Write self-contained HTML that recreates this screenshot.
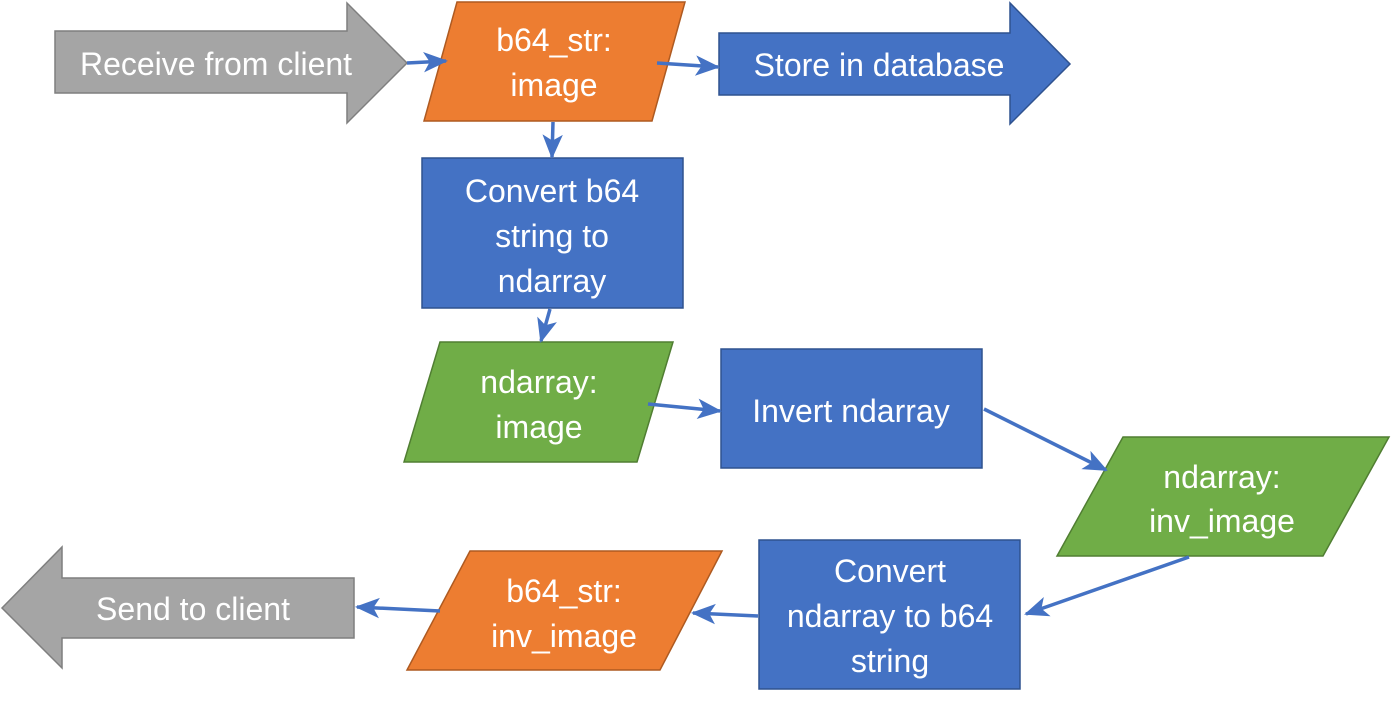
<!DOCTYPE html>
<html><head><meta charset="utf-8"><style>
html,body{margin:0;padding:0;background:#fff;}
svg{display:block}
text{font-family:"Liberation Sans",sans-serif;font-size:32px;fill:#fff;text-anchor:middle;}
</style></head><body>
<svg width="1391" height="705" viewBox="0 0 1391 705" xmlns="http://www.w3.org/2000/svg">
<defs>
<marker id="a" viewBox="0 0 12 10" refX="11" refY="5" markerWidth="7" markerHeight="7" orient="auto" markerUnits="strokeWidth">
<path d="M0,0 L12,5 L0,10 L3,5 Z" fill="#4472C4"/>
</marker>
</defs>
<polygon points="55,31 347,31 347,3 407,63 347,123 347,93 55,93" fill="#A5A5A5" stroke="#7F7F7F" stroke-width="1.5"/>
<text x="216" y="75">Receive from client</text>
<polygon points="457,2 685,2 652,121 424,121" fill="#ED7D31" stroke="#AE5A21" stroke-width="1.5"/>
<text x="554" y="51">b64_str:</text>
<text x="554" y="96">image</text>
<polygon points="719,33 1010,33 1010,3 1070,64 1010,124 1010,95 719,95" fill="#4472C4" stroke="#2F528F" stroke-width="1.5"/>
<text x="879" y="76">Store in database</text>
<rect x="422" y="158" width="261" height="150" fill="#4472C4" stroke="#2F528F" stroke-width="1.5"/>
<text x="552" y="202">Convert b64</text>
<text x="552" y="247">string to</text>
<text x="552" y="292">ndarray</text>
<polygon points="440,342 673,342 637,462 404,462" fill="#70AD47" stroke="#507E32" stroke-width="1.5"/>
<text x="539" y="393">ndarray:</text>
<text x="539" y="438">image</text>
<rect x="721" y="349" width="261" height="119" fill="#4472C4" stroke="#2F528F" stroke-width="1.5"/>
<text x="851" y="422">Invert ndarray</text>
<polygon points="1123,437 1389,437 1323,556 1057,556" fill="#70AD47" stroke="#507E32" stroke-width="1.5"/>
<text x="1222" y="488">ndarray:</text>
<text x="1222" y="532">inv_image</text>
<rect x="759" y="540" width="261" height="149" fill="#4472C4" stroke="#2F528F" stroke-width="1.5"/>
<text x="890" y="582">Convert</text>
<text x="890" y="627">ndarray to b64</text>
<text x="890" y="672">string</text>
<polygon points="470,551 722,551 660,670 407,670" fill="#ED7D31" stroke="#AE5A21" stroke-width="1.5"/>
<text x="564" y="602">b64_str:</text>
<text x="564" y="647">inv_image</text>
<polygon points="2,608 62,547 62,578 354,578 354,638 62,638 62,668" fill="#A5A5A5" stroke="#7F7F7F" stroke-width="1.5"/>
<text x="193" y="620">Send to client</text>
<g stroke="#4472C4" stroke-width="3.5" fill="none" marker-end="url(#a)">
<line x1="407" y1="63" x2="446" y2="61"/>
<line x1="657" y1="63" x2="718" y2="67"/>
<line x1="553" y1="122" x2="552" y2="157"/>
<line x1="550" y1="309" x2="541" y2="341"/>
<line x1="648" y1="404" x2="720" y2="411"/>
<line x1="984" y1="409" x2="1106" y2="470"/>
<line x1="1189" y1="557" x2="1026" y2="614"/>
<line x1="758" y1="616" x2="693" y2="613"/>
<line x1="440" y1="611" x2="357" y2="607"/>
</g>
</svg>
</body></html>
